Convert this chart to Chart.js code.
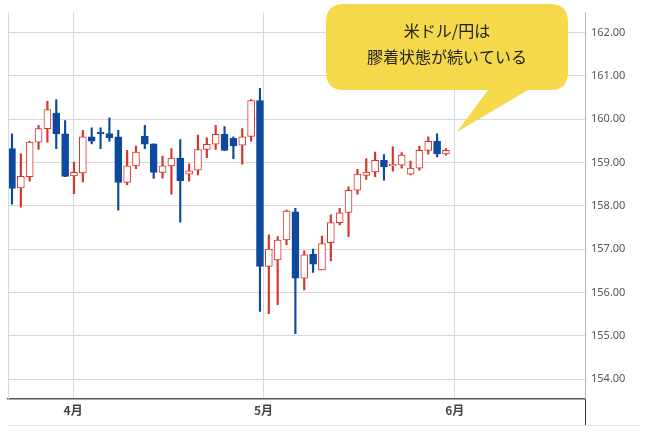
<!DOCTYPE html>
<html><head><meta charset="utf-8">
<script src="https://cdn.jsdelivr.net/npm/chart.js@4/dist/chart.umd.min.js"></script>
<style>html,body{margin:0;padding:0;background:#fff}#w{width:646px;height:435px}</style>
</head><body><div id="w"><canvas id="c"></canvas></div>
<script>
const opens  = [159.32,158.41,158.67,159.47,159.78,160.14,159.66,158.69,158.76,159.59,159.68,159.67,159.59,158.54,158.92,159.61,159.43,158.77,158.92,159.10,158.73,158.82,159.30,159.42,159.65,159.56,159.40,159.60,160.43,156.60,156.75,157.21,157.86,156.33,156.88,156.52,157.15,157.61,157.85,158.36,158.70,158.78,159.05,158.92,158.94,158.73,158.87,159.28,159.49,159.20];
const closes = [158.40,158.68,159.47,159.78,160.22,159.66,158.68,158.77,159.59,159.49,159.66,159.57,158.54,158.92,159.24,159.42,158.77,158.92,159.10,158.58,158.81,159.30,159.42,159.65,159.28,159.38,159.59,160.43,156.60,157.00,157.21,157.88,156.33,156.87,156.65,157.13,157.61,157.84,158.36,158.73,158.78,159.05,158.90,158.94,159.17,158.87,159.28,159.49,159.20,159.28];
const highs  = [159.66,159.20,159.49,159.86,160.41,160.45,159.97,159.01,159.74,159.80,159.80,160.03,159.74,159.28,159.38,159.86,159.43,159.15,159.32,159.53,158.97,159.63,159.57,159.86,159.83,159.59,159.78,160.45,160.71,157.33,157.29,157.90,157.94,156.96,157.00,157.30,157.79,157.94,158.44,158.84,159.09,159.24,159.18,159.36,159.23,159.03,159.38,159.59,159.66,159.32];
const lows   = [158.04,157.97,158.57,159.30,159.47,159.32,158.67,158.28,158.55,159.43,159.32,159.49,157.90,158.48,158.86,159.32,158.63,158.64,158.27,157.62,158.57,158.71,159.11,159.30,159.28,159.09,158.96,159.49,155.56,155.51,155.72,157.10,155.05,156.06,156.46,156.52,156.73,157.56,157.29,158.27,158.61,158.67,158.59,158.80,158.87,158.71,158.82,159.19,159.13,159.17];
const monthLabels = ["4月","5月","6月"];
const monthPos = [6.9,28.4,50.0];
const yTicks = [154,155,156,157,158,159,160,161,162];

const UP="#d9342b", DOWN="#0b4a9e";
const bodies = opens.map((o,i)=>({x:i,y:[o,closes[i]]}));
const wicks = highs.map((h,i)=>({x:i,y:[lows[i],h]}));
const isUp = opens.map((o,i)=>closes[i]>=o);

const callout = {id:'callout',afterDraw(ch){
  const c=ch.ctx; c.save();
  c.strokeStyle="#d8d8d8";c.lineWidth=1;c.beginPath();c.moveTo(8.5,ch.chartArea.top);c.lineTo(8.5,ch.chartArea.bottom);c.stroke();
  c.fillStyle="#f5d94a";
  const x=326,y=4,w=242,h=86,r=18;
  c.beginPath();
  c.moveTo(x+r,y);c.lineTo(x+w-r,y);c.quadraticCurveTo(x+w,y,x+w,y+r);
  c.lineTo(x+w,y+h-r);c.quadraticCurveTo(x+w,y+h,x+w-r,y+h);
  c.lineTo(528,y+h);c.lineTo(457,132);c.lineTo(488,y+h);
  c.lineTo(x+r,y+h);c.quadraticCurveTo(x,y+h,x,y+h-r);
  c.lineTo(x,y+r);c.quadraticCurveTo(x,y,x+r,y);c.closePath();c.fill();
  c.fillStyle="#222";c.font="16px 'Noto Sans CJK JP'";c.textAlign="center";c.textBaseline="middle";
  c.fillText("米ドル/円は",447,31);c.fillText("膠着状態が続いている",447,57);
  c.strokeStyle="#333";c.lineWidth=1;c.beginPath();c.moveTo(585.5,399);c.lineTo(585.5,426);c.stroke();
  c.strokeStyle="#e6e6e6";c.beginPath();c.moveTo(8,425.5);c.lineTo(640,425.5);c.stroke();
  c.restore();
}};

new Chart(document.getElementById('c'),{
  type:'bar',
  data:{datasets:[
    {data:wicks,backgroundColor:wicks.map((_,i)=>isUp[i]?UP:DOWN),barThickness:1.5,grouped:false,order:2},
    {data:bodies,backgroundColor:bodies.map((_,i)=>isUp[i]?"#fff":DOWN),borderColor:bodies.map((_,i)=>isUp[i]?UP:DOWN),borderWidth:1,borderSkipped:false,barThickness:7,minBarLength:1.5,grouped:false,order:1}
  ]},
  options:{responsive:true,maintainAspectRatio:false,animation:false,
    layout:{padding:{left:8,top:10,right:0,bottom:10}},
    plugins:{legend:{display:false},tooltip:{enabled:false}},
    scales:{
      x:{type:'linear',min:-0.45,max:64.7,offset:false,
        afterBuildTicks(a){a.ticks=monthPos.map(v=>({value:v}));},
        afterFit(a){a.height=26;},
        ticks:{autoSkip:false,maxRotation:0,color:'#444',font:{size:12,weight:'bold',family:'Noto Sans CJK JP'},callback:(v,i)=>monthLabels[i],padding:4},
        grid:{color:'#d8d8d8',drawTicks:false,offset:false},
        border:{color:'#555',width:1.5}},
      y:{position:'right',min:153.54,max:162.46,
        afterBuildTicks(a){a.ticks=yTicks.map(v=>({value:v}));},
        afterFit(a){a.width=61;},
        ticks:{color:'#555',font:{size:11,family:'Noto Sans'},callback:v=>v.toFixed(2),padding:6},
        grid:{color:'#d8d8d8',drawTicks:false},
        border:{color:'#bbb'}}
    }},
  plugins:[callout]
});
</script></body></html>
